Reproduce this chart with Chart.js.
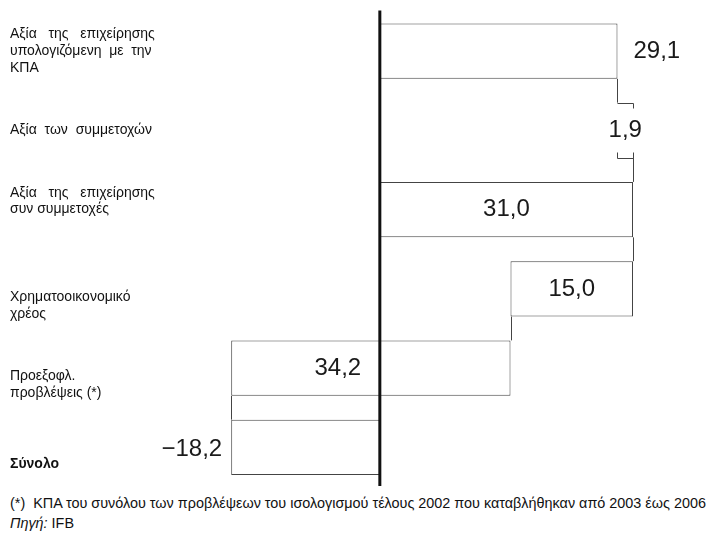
<!DOCTYPE html>
<html>
<head>
<meta charset="utf-8">
<script src="https://cdn.jsdelivr.net/npm/chart.js@4/dist/chart.umd.min.js"></script>
<style>
  body { margin: 0; background: #fff; width: 717px; height: 537px; position: relative; overflow: hidden; }
  #chart { position: absolute; left: 0; top: 0; }
  .note { position: absolute; left: 10px; font-family: "Liberation Sans", Arial, sans-serif; font-size: 14.4px; color: #111; white-space: nowrap; }
</style>
</head>
<body>
<canvas id="chart" width="717" height="490"></canvas>
<div class="note" style="top:495px">(*)&nbsp; ΚΠΑ του συνόλου των προβλέψεων του ισολογισμού τέλους 2002 που καταβλήθηκαν από 2003 έως 2006</div>
<div class="note" style="top:515px"><i>Πηγή:</i> IFB</div>
<script>
// categories (multi-line labels)
const categories = [
    ["Αξία   της   επιχείρησης", "υπολογιζόμενη  με  την", "ΚΠΑ"],
    ["Αξία  των  συμμετοχών"],
    ["Αξία   της   επιχείρησης", "συν συμμετοχές"],
    ["Χρηματοοικονομικό", "χρέος"],
    ["Προεξοφλ.", "προβλέψεις (*)"],
    ["Σύνολο"]
];
// waterfall bars: start and end of each step
const barFrom = [0, 29.1, 0, 16.0, -18.2, -18.2];
const barTo = [29.1, 31.0, 31.0, 31.0, 16.0, 0];
// values written next to the bars
const shownValues = [29.1, 1.9, 31.0, 15.0, 34.2, -18.2];

// label styling (not data)
const blankBefore = [0, 0, 0, 2, 2, 2];
const blankAfter = [0, 0, 1, 0, 0, 0];
const valuePlacement = ['right', 'center', 'center', 'center', 'center', 'left'];

function fmt(v) {
    const s = Math.abs(v).toFixed(1).replace('.', ',');
    return v < 0 ? '\u2212' + s : s;
}

const waterfallExtras = {
    id: 'waterfallExtras',
    afterDatasetsDraw(chart) {
        const ctx = chart.ctx;
        const x = chart.scales.x;
        const area = chart.chartArea;
        const bars = chart.getDatasetMeta(0).data;
        ctx.save();
        ctx.strokeStyle = '#444';
        ctx.lineWidth = 1;

        // connectors between consecutive steps
        for (let i = 0; i < bars.length - 1; i++) {
            const a = [barFrom[i], barTo[i]];
            const b = [barFrom[i + 1], barTo[i + 1]];
            const shared = a.find(v => v !== 0 && b.includes(v));
            if (shared === undefined) continue;
            const px = Math.round(x.getPixelForValue(shared)) + 0.5;
            ctx.beginPath();
            ctx.moveTo(px, bars[i].y + bars[i].height / 2);
            ctx.lineTo(px, bars[i + 1].y - bars[i + 1].height / 2);
            ctx.stroke();
        }

        // bracket for the small step
        const b2 = bars[1];
        const l = Math.round(x.getPixelForValue(barFrom[1])) + 0.5;
        const r = Math.round(x.getPixelForValue(barTo[1])) + 0.5;
        const t = Math.round(b2.y - b2.height / 2) + 0.5;
        const btm = Math.round(b2.y + b2.height / 2) + 0.5;
        ctx.beginPath();
        ctx.moveTo(l, t); ctx.lineTo(r, t); ctx.lineTo(r, t + 5);
        ctx.moveTo(l, btm - 6); ctx.lineTo(l, btm); ctx.lineTo(r, btm); ctx.lineTo(r, btm - 6);
        ctx.stroke();

        // vertical zero line
        const zx = x.getPixelForValue(0);
        ctx.strokeStyle = '#111';
        ctx.lineWidth = 3;
        ctx.beginPath();
        ctx.moveTo(zx, area.top - 1);
        ctx.lineTo(zx, area.bottom - 1);
        ctx.stroke();

        // value labels
        ctx.fillStyle = '#1a1a1a';
        ctx.font = '24px "Liberation Sans", Arial, sans-serif';
        ctx.textBaseline = 'middle';
        bars.forEach((bar, i) => {
            const x0 = x.getPixelForValue(barFrom[i]);
            const x1 = x.getPixelForValue(barTo[i]);
            const txt = fmt(shownValues[i]);
            if (valuePlacement[i] === 'right') {
                ctx.textAlign = 'left';
                ctx.fillText(txt, Math.max(x0, x1) + 16, bar.y);
            } else if (valuePlacement[i] === 'left') {
                ctx.textAlign = 'right';
                ctx.fillText(txt, Math.min(x0, x1) - 9, bar.y + 2);
            } else {
                ctx.textAlign = 'center';
                const dx = i === 4 ? -33 : 0;
                ctx.fillText(txt, (x0 + x1) / 2 + dx, bar.y);
            }
        });
        ctx.restore();
    }
};

new Chart(document.getElementById('chart'), {
    type: 'bar',
    data: {
        labels: categories,
        datasets: [{
            data: barFrom.map((f, i) => [f, barTo[i]]),
            backgroundColor: barFrom.map((f, i) => i === 1 ? 'rgba(0,0,0,0)' : '#fff'),
            borderColor: '#444',
            borderWidth: barFrom.map((f, i) => i === 1 ? 0 : 1),
            borderSkipped: false,
            barPercentage: 0.7,
            categoryPercentage: 1
        }]
    },
    plugins: [waterfallExtras],
    options: {
        indexAxis: 'y',
        responsive: false,
        animation: false,
        layout: { padding: { left: 10, right: 35, top: 11.5, bottom: 3 } },
        plugins: {
            legend: { display: false },
            tooltip: { enabled: false }
        },
        scales: {
            x: { display: false, min: -23, max: 37 },
            y: {
                grid: { display: false },
                border: { display: false },
                afterFit: (scale) => {
                    scale.width = 182;
                    scale.paddingTop = 0;
                    scale.paddingBottom = 0;
                },
                ticks: {
                    crossAlign: 'far',
                    color: '#111',
                    font: (c) => ({
                        family: '"Liberation Sans", Arial, sans-serif',
                        size: 14,
                        lineHeight: 1.2,
                        weight: c.index === 5 ? 'bold' : 'normal'
                    }),
                    callback: (v, i) => [
                        ...Array(blankBefore[i]).fill(''),
                        ...categories[i],
                        ...Array(blankAfter[i]).fill('')
                    ]
                }
            }
        }
    }
});
</script>
</body>
</html>
